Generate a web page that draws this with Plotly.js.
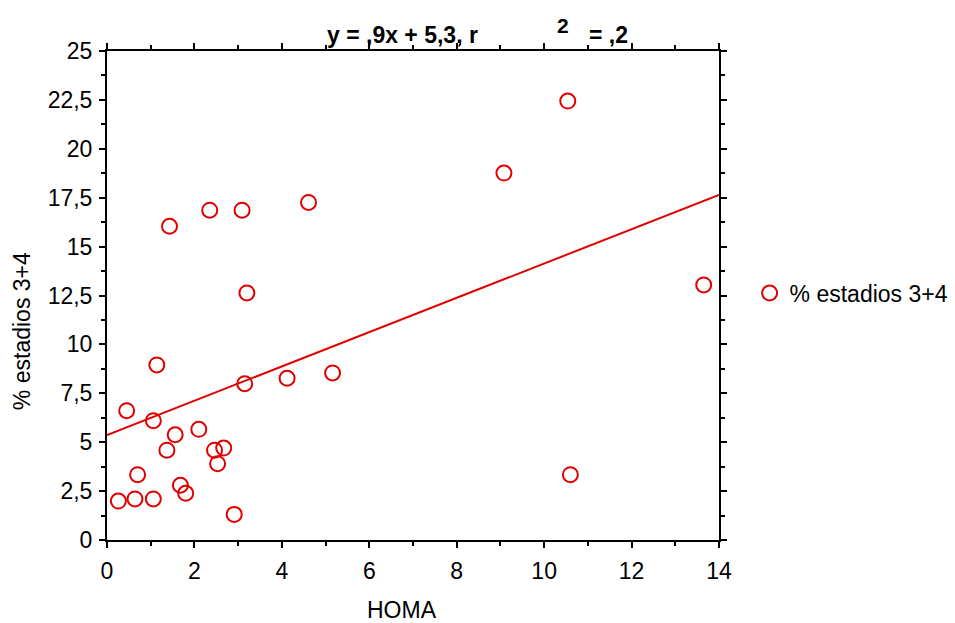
<!DOCTYPE html>
<html>
<head>
<meta charset="utf-8">
<script src="https://cdn.plot.ly/plotly-3.0.1.min.js"></script>
<style>html,body{margin:0;padding:0;background:#fff;}#chart{width:955px;height:623px;}</style>
</head>
<body>
<div id="chart"></div>
<script>
// HOMA values (x) and % estadios 3+4 (y)
const homa = [0.26, 0.64, 1.06, 0.70, 0.45, 1.06, 1.14, 1.37, 1.56, 1.68, 1.80, 2.10, 2.46, 2.53, 2.67, 2.91, 3.15, 4.12, 5.16, 1.43, 2.35, 3.09, 4.61, 3.20, 10.54, 9.08, 13.65, 10.60];
const estadios = [1.99, 2.10, 2.10, 3.34, 6.61, 6.10, 8.95, 4.59, 5.38, 2.80, 2.39, 5.66, 4.59, 3.90, 4.70, 1.31, 7.99, 8.27, 8.54, 16.04, 16.86, 16.86, 17.26, 12.63, 22.44, 18.76, 13.04, 3.34];
// regression line end points
const fitX = [0, 14];
const fitY = [5.37, 17.64];
const seriesName = '% estadios 3+4';
const xTitle = 'HOMA';
const yTitle = '% estadios 3+4';

const red = '#e00000';
const font = 'Arial, "Liberation Sans", sans-serif';

const traces = [
  {x: fitX, y: fitY, mode: 'lines', line: {color: red, width: 2}, showlegend: false, hoverinfo: 'skip'},
  {x: homa, y: estadios, mode: 'markers', name: seriesName,
   marker: {symbol: 'circle-open', size: 15, color: red, line: {width: 2, color: red}}}
];

const axisCommon = {
  showline: true, linewidth: 2, linecolor: '#000', mirror: 'ticks',
  ticks: 'outside', ticklen: 6, tickwidth: 2, tickcolor: '#000',
  showgrid: false, zeroline: false,
  tickfont: {family: font, size: 23, color: '#000'}
};

const layout = {
  width: 955, height: 623,
  margin: {l: 107, r: 236, t: 51, b: 83, autoexpand: false},
  paper_bgcolor: '#fff', plot_bgcolor: '#fff',
  separators: ', ',
  font: {family: font, color: '#000'},
  xaxis: Object.assign({}, axisCommon, {range: [0, 14], dtick: 2, tick0: 0, automargin: false, ticklabelstandoff: 3,
    minor: {dtick: 1, ticks: 'outside', ticklen: 4, tickwidth: 2, tickcolor: '#000'}}),
  yaxis: Object.assign({}, axisCommon, {range: [0, 25], dtick: 2.5, tick0: 0, automargin: false, ticklabelstandoff: 2,
    minor: {dtick: 1.25, ticks: 'outside', ticklen: 4, tickwidth: 2, tickcolor: '#000'}}),
  showlegend: true,
  legend: {x: 1.05, xanchor: 'left', y: 0.505, yanchor: 'middle', font: {family: font, size: 23, color: '#000'}, bgcolor: 'rgba(0,0,0,0)'},
  annotations: [
    {text: '<b>y = ,9x + 5,3, r</b>', xref: 'paper', yref: 'paper', x: 0.356, y: 1.0327, xanchor: 'left', yanchor: 'middle', showarrow: false, font: {family: font, size: 23, color: '#000'}},
    {text: '<b>2</b>', xref: 'paper', yref: 'paper', x: 0.732, y: 1.053, xanchor: 'left', yanchor: 'middle', showarrow: false, font: {family: font, size: 21, color: '#000'}},
    {text: '<b>= ,2</b>', xref: 'paper', yref: 'paper', x: 0.784, y: 1.0327, xanchor: 'left', yanchor: 'middle', showarrow: false, font: {family: font, size: 23, color: '#000'}},
    {text: xTitle, xref: 'paper', yref: 'paper', x: 0.482, y: -0.143, xanchor: 'center', yanchor: 'middle', showarrow: false, font: {family: font, size: 23, color: '#000'}},
    {text: yTitle, xref: 'paper', yref: 'paper', x: -0.139, y: 0.427, xanchor: 'center', yanchor: 'middle', textangle: -90, showarrow: false, font: {family: font, size: 23, color: '#000'}}
  ]
};

Plotly.newPlot('chart', traces, layout, {displayModeBar: false, staticPlot: true});
</script>
</body>
</html>
